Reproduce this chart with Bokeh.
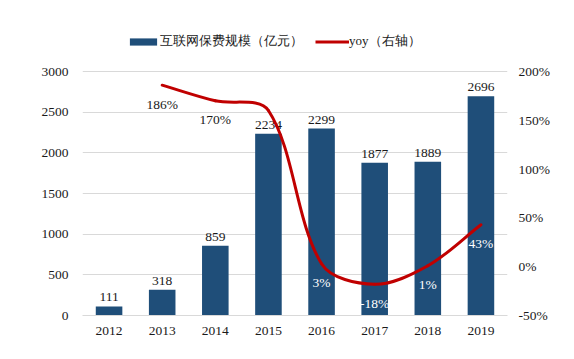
import numpy as np
from bokeh.plotting import figure
from bokeh.models import (Range1d, LinearAxis, FixedTicker, PrintfTickFormatter,
                          ColumnDataSource, LabelSet, Legend, LegendItem)
from bokeh.embed import file_html
from bokeh.resources import INLINE

years = ["2012", "2013", "2014", "2015", "2016", "2017", "2018", "2019"]
premium = [111, 318, 859, 2234, 2299, 1877, 1889, 2696]
yoy = [np.nan, 186, 170, 160, 3, -18, 1, 43]
yoy_labels = ["", "186%", "170%", "", "3%", "-18%", "1%", "43%"]
yoy_label_colors = ["white", "#1a1a1a", "#1a1a1a", "white", "white", "white", "white", "white"]
left_ticks = [0, 500, 1000, 1500, 2000, 2500, 3000]
right_ticks = [-50, 0, 50, 100, 150, 200]

BAR = "#1F4E79"
RED = "#C00000"
GRID = "#d9d9d9"
FONT = "Liberation Serif"
FS = "13.5px"

# layout (px): axis area is 425 x 244, frame extended upward to hold the legend
FW, AXH, EXTRA = 425, 244, 43
FH = AXH + EXTRA
L_MAX = 3000 * FH / AXH
R_MIN, R_SPAN = -50, 250
R_MAX = R_MIN + R_SPAN * FH / AXH

xs = list(range(len(years)))

p = figure(width=558, height=343, output_backend="svg", toolbar_location=None,
           x_range=Range1d(-0.5, len(years) - 0.5), y_range=Range1d(0, L_MAX),
           min_border_left=82, min_border_right=51, min_border_top=28, min_border_bottom=28)
p.extra_y_ranges = {"yoy": Range1d(R_MIN, R_MAX)}
p.outline_line_color = None
p.background_fill_color = "white"
p.border_fill_color = "white"

bar_src = ColumnDataSource(dict(x=xs, top=premium, lab=[str(v) for v in premium]))
bars = p.vbar(x="x", top="top", width=0.5, source=bar_src, fill_color=BAR, line_color=None)

p.add_layout(LabelSet(x="x", y="top", text="lab", source=bar_src, text_align="center",
                      text_baseline="bottom", y_offset=5, text_font=FONT,
                      text_font_size=FS, text_color="#1a1a1a"))

# smoothed yoy line: bezier segments through the data points (tangents scaled by
# neighbouring segment lengths in screen space, like spreadsheet smoothing)
sx = FW / len(years)
sy = AXH / float(R_SPAN)
pts = [(x, y) for x, y in zip(xs, yoy) if not np.isnan(y)]
n = len(pts)

def dist(a, b):
    return np.hypot((b[0] - a[0]) * sx, (b[1] - a[1]) * sy)

def ctrl(i):
    pi = pts[i]
    pp = pts[max(i - 1, 0)]
    pn = pts[min(i + 1, n - 1)]
    d0 = dist(pp, pi)
    d1 = dist(pi, pn)
    tot = d0 + d1 if d0 + d1 > 0 else 1.0
    tx, ty = pn[0] - pp[0], pn[1] - pp[1]
    fa = d1 / tot / 3.0
    fb = d0 / tot / 3.0
    after = (pi[0] + tx * fa, pi[1] + ty * fa)
    before = (pi[0] - tx * fb, pi[1] - ty * fb)
    return before, after

seg = dict(x0=[], y0=[], x1=[], y1=[], cx0=[], cy0=[], cx1=[], cy1=[])
for i in range(n - 1):
    _, a = ctrl(i)
    b, _ = ctrl(i + 1)
    seg["x0"].append(pts[i][0]); seg["y0"].append(pts[i][1])
    seg["x1"].append(pts[i + 1][0]); seg["y1"].append(pts[i + 1][1])
    seg["cx0"].append(a[0]); seg["cy0"].append(a[1])
    seg["cx1"].append(b[0]); seg["cy1"].append(b[1])
bez = p.bezier(x0="x0", y0="y0", x1="x1", y1="y1", cx0="cx0", cy0="cy0", cx1="cx1", cy1="cy1",
               source=ColumnDataSource(seg), y_range_name="yoy", line_color=RED,
               line_width=3, line_cap="round", level="overlay")

yoy_src = ColumnDataSource(dict(x=xs, y=[0 if np.isnan(v) else v for v in yoy],
                                lab=yoy_labels, col=yoy_label_colors))
p.add_layout(LabelSet(x="x", y="y", text="lab", source=yoy_src, y_range_name="yoy",
                      text_align="center", text_baseline="middle", y_offset=-19,
                      text_font=FONT, text_font_size=FS, text_color="col", level="overlay"))

# axes
p.xaxis.ticker = FixedTicker(ticks=xs)
p.xaxis.major_label_overrides = {i: y for i, y in enumerate(years)}
p.xaxis.axis_line_color = GRID
p.xaxis.major_tick_line_color = None
p.xaxis.minor_tick_line_color = None
p.xaxis.major_label_standoff = 5
p.xaxis.major_label_text_font = FONT
p.xaxis.major_label_text_font_size = FS
p.xaxis.major_label_text_color = "#1a1a1a"

p.yaxis.ticker = FixedTicker(ticks=left_ticks)
p.yaxis.axis_line_color = None
p.yaxis.major_tick_line_color = None
p.yaxis.minor_tick_line_color = None
p.yaxis.major_label_standoff = 8
p.yaxis.major_label_text_font = FONT
p.yaxis.major_label_text_font_size = FS
p.yaxis.major_label_text_color = "#1a1a1a"

ry = LinearAxis(y_range_name="yoy", ticker=FixedTicker(ticks=right_ticks),
                formatter=PrintfTickFormatter(format="%d%%"))
ry.axis_line_color = None
ry.major_tick_line_color = None
ry.minor_tick_line_color = None
ry.major_label_standoff = 5
ry.major_label_text_font = FONT
ry.major_label_text_font_size = FS
ry.major_label_text_color = "#1a1a1a"
p.add_layout(ry, "right")

p.xgrid.grid_line_color = None
p.ygrid.ticker = FixedTicker(ticks=left_ticks[1:])
p.ygrid.grid_line_color = GRID
p.ygrid.grid_line_width = 1

# legend (line entry uses a data-less line so only its swatch is drawn)
leg_line = p.line(x=[np.nan, np.nan], y=[np.nan, np.nan], line_color=RED, line_width=3,
                  y_range_name="yoy")
legend = Legend(items=[LegendItem(label="互联网保费规模（亿元）", renderers=[bars]),
                       LegendItem(label="yoy（右轴）", renderers=[leg_line])],
                location=(44, 265), orientation="horizontal",
                glyph_width=34, glyph_height=9, label_height=15,
                label_standoff=0, spacing=12, padding=0, margin=0,
                label_text_font=FONT, label_text_font_size="13px",
                label_text_color="#1a1a1a", border_line_color=None,
                background_fill_alpha=0)
p.add_layout(legend, "center")

open("out.html", "w").write(file_html(p, INLINE))
